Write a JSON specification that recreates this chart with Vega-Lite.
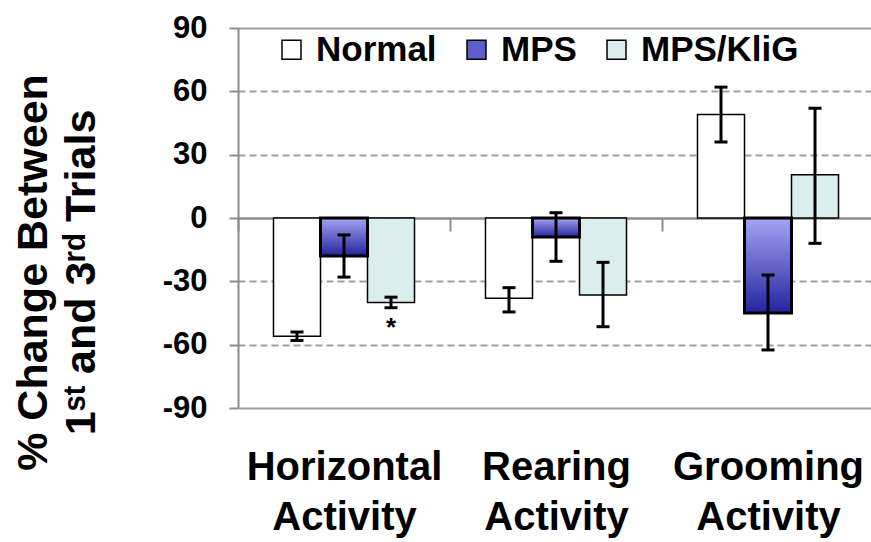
{
  "$schema": "https://vega.github.io/schema/vega-lite/v6.json",
  "width": 636,
  "height": 380,
  "autosize": {"type": "none"},
  "padding": {"left": 238, "top": 28, "right": 0, "bottom": 134},
  "config": {"font": "Liberation Sans", "view": {"stroke": null}},
  "data": {
    "values": [
      {"cat": "Horizontal Activity", "group": "Normal", "value": -56, "lo": -58, "hi": -54},
      {"cat": "Horizontal Activity", "group": "MPS", "value": -18, "lo": -28, "hi": -8},
      {"cat": "Horizontal Activity", "group": "MPS/KliG", "value": -40, "lo": -42.5, "hi": -37.5},
      {"cat": "Rearing Activity", "group": "Normal", "value": -38, "lo": -44.5, "hi": -33},
      {"cat": "Rearing Activity", "group": "MPS", "value": -9, "lo": -20.5, "hi": 2.5},
      {"cat": "Rearing Activity", "group": "MPS/KliG", "value": -36.5, "lo": -51.5, "hi": -21},
      {"cat": "Grooming Activity", "group": "Normal", "value": 49, "lo": 36, "hi": 62},
      {"cat": "Grooming Activity", "group": "MPS", "value": -45, "lo": -62.5, "hi": -27},
      {"cat": "Grooming Activity", "group": "MPS/KliG", "value": 20.5, "lo": -12, "hi": 52}
    ]
  },
  "encoding": {
    "x": {
      "field": "cat", "type": "nominal",
      "sort": ["Horizontal Activity", "Rearing Activity", "Grooming Activity"],
      "scale": {"paddingInner": 0, "paddingOuter": 0},
      "axis": {
        "title": null, "orient": "bottom", "offset": -190,
        "domainColor": "#8c8c8c", "domainWidth": 2,
        "tickBand": "extent", "tickSize": 13, "tickColor": "#8c8c8c", "tickWidth": 2,
        "labelAngle": 0, "labelPadding": 216, "labelFontSize": 40, "labelFontWeight": "bold",
        "labelColor": "black", "labelLineHeight": 50, "labelLimit": 400,
        "labelExpr": "split(datum.label, ' ')"
      }
    },
    "xOffset": {
      "field": "group", "type": "nominal",
      "scale": {"domain": ["Normal", "MPS", "MPS/KliG"], "paddingInner": 0, "paddingOuter": 0.755}
    }
  },
  "layer": [
    {
      "mark": {"type": "bar", "stroke": "black", "strokeWidth": 1.5},
      "encoding": {
        "y": {
          "field": "value", "type": "quantitative",
          "scale": {"domain": [-90, 90], "nice": false},
          "axis": {
            "values": [-90, -60, -30, 0, 30, 60, 90],
            "labelExpr": "'' + datum.value",
            "title": ["% Change Between", "1ˢᵗ and 3ʳᵈ Trials"],
            "titleFontSize": 43, "titleFontWeight": "bold", "titleColor": "black",
            "titleLineHeight": 48, "titleAngle": 270, "titleBaseline": "top", "titleAlign": "center",
            "titleX": -226, "titleY": 244,
            "labelFontSize": 31, "labelFontWeight": "bold", "labelColor": "black", "labelPadding": 22,
            "domainColor": "#8c8c8c", "domainWidth": 2,
            "tickColor": "#8c8c8c", "tickWidth": 2, "tickSize": 9,
            "grid": true, "gridColor": "#a0a0a0", "gridWidth": 2,
            "gridDash": {"condition": {"test": "abs(datum.value) == 90 || datum.value == 0", "value": []}, "value": [7, 4]}
          }
        },
        "color": {
          "field": "group", "type": "nominal",
          "scale": {"domain": ["Normal", "MPS", "MPS/KliG"], "range": ["#ffffff", "#5f5fcc", "#daeeee"]},
          "legend": {
            "title": null, "orient": "none", "legendX": 36, "legendY": 4, "direction": "horizontal",
            "symbolType": "square", "symbolSize": 360, "symbolStrokeColor": "black", "symbolStrokeWidth": 1.5,
            "labelFontSize": 35, "labelFontWeight": "bold", "labelColor": "black", "labelOffset": 7,
            "columnPadding": 22, "labelLimit": 400
          }
        }
      }
    },
    {
      "transform": [{"filter": "datum.group == 'MPS'"}],
      "mark": {
        "type": "bar", "stroke": "black", "strokeWidth": 3,
        "color": {"gradient": "linear", "x1": 0, "y1": 0, "x2": 0, "y2": 1,
          "stops": [{"offset": 0, "color": "#a4a4f2"}, {"offset": 1, "color": "#2424a0"}]}
      },
      "encoding": {
        "y": {"field": "value", "type": "quantitative"}
      }
    },
    {
      "mark": {"type": "rule", "color": "black", "strokeWidth": 3},
      "encoding": {
        "y": {"field": "lo", "type": "quantitative"},
        "y2": {"field": "hi"}
      }
    },
    {
      "mark": {"type": "tick", "color": "black", "size": 13, "thickness": 3, "opacity": 1},
      "encoding": {
        "y": {"field": "lo", "type": "quantitative"}
      }
    },
    {
      "mark": {"type": "tick", "color": "black", "size": 13, "thickness": 3, "opacity": 1},
      "encoding": {
        "y": {"field": "hi", "type": "quantitative"}
      }
    },
    {
      "data": {"values": [{"cat": "Horizontal Activity", "group": "MPS/KliG", "mark": "*", "pos": -46}]},
      "mark": {"type": "text", "fontSize": 26, "fontWeight": "bold", "baseline": "top", "color": "black"},
      "encoding": {
        "y": {"field": "pos", "type": "quantitative"},
        "text": {"field": "mark"}
      }
    }
  ]
}
